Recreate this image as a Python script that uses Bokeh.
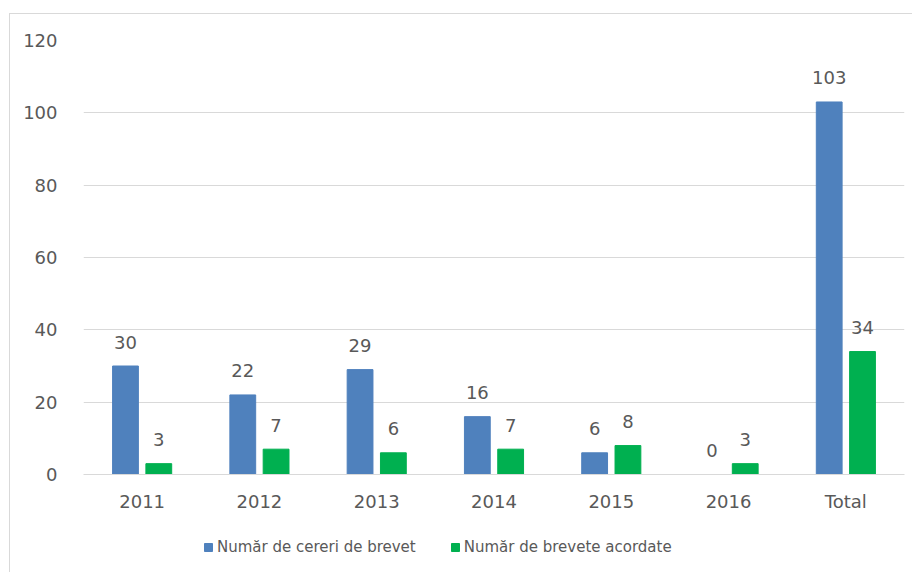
from bokeh.plotting import figure
from bokeh.layouts import column
from bokeh.models import ColumnDataSource, FactorRange, Range1d, Legend, LegendItem, FixedTicker
from bokeh.transform import dodge
from bokeh.core.properties import value
from bokeh.embed import file_html
from bokeh.resources import INLINE

categories = ["2011", "2012", "2013", "2014", "2015", "2016", "Total"]
cereri = [30, 22, 29, 16, 6, 0, 103]
brevete = [3, 7, 6, 7, 8, 3, 34]
series_names = ["Număr de cereri de brevet", "Număr de brevete acordate"]
y_ticks = [0, 20, 40, 60, 80, 100, 120]

BLUE = "#4F81BD"
GREEN = "#00B050"
TXT = "#595959"
FONT = "DejaVu Sans"

src = ColumnDataSource(dict(
    cat=categories, cereri=cereri, brevete=brevete,
    cereri_lbl=[str(v) for v in cereri], brevete_lbl=[str(v) for v in brevete],
))

p = figure(
    x_range=FactorRange(*categories, range_padding=0), y_range=Range1d(0, 120),
    width=902, height=510, output_backend="svg", toolbar_location=None,
    min_border_left=73, min_border_right=8, min_border_top=26, min_border_bottom=50,
)
p.outline_line_color = None
p.background_fill_color = "white"
p.border_fill_color = "white"

r1 = p.vbar(x=dodge("cat", -0.142, range=p.x_range), top="cereri", width=0.22,
            source=src, fill_color=BLUE, line_color=BLUE)
r2 = p.vbar(x=dodge("cat", 0.142, range=p.x_range), top="brevete", width=0.22,
            source=src, fill_color=GREEN, line_color=GREEN)

p.text(x=dodge("cat", -0.142, range=p.x_range), y="cereri", text="cereri_lbl", source=src,
       text_align="center", text_baseline="middle", y_offset=-24,
       text_font=value(FONT), text_font_size="18px", text_color=TXT)
p.text(x=dodge("cat", 0.142, range=p.x_range), y="brevete", text="brevete_lbl", source=src,
       text_align="center", text_baseline="middle", y_offset=-24,
       text_font=value(FONT), text_font_size="18px", text_color=TXT)

p.yaxis.ticker = FixedTicker(ticks=y_ticks)
p.yaxis.axis_line_color = None
p.yaxis.major_tick_line_color = None
p.yaxis.minor_tick_line_color = None
p.yaxis.major_label_standoff = 20
p.yaxis.major_label_text_font = FONT
p.yaxis.major_label_text_font_size = "18px"
p.yaxis.major_label_text_color = TXT

p.xaxis.axis_line_color = "#d9d9d9"
p.xaxis.major_tick_line_color = None
p.xaxis.minor_tick_line_color = None
p.xaxis.major_label_standoff = 10
p.xaxis.major_label_text_font = FONT
p.xaxis.major_label_text_font_size = "18px"
p.xaxis.major_label_text_color = TXT

p.xgrid.grid_line_color = None
p.ygrid.grid_line_color = "#d9d9d9"
p.ygrid.grid_line_width = 1

# legend strip below the chart (its glyphs are placed outside the visible range)
leg = figure(width=902, height=48, output_backend="svg", toolbar_location=None,
             x_range=Range1d(0, 1), y_range=Range1d(0, 1),
             x_axis_location=None, y_axis_location=None,
             min_border=0)
leg.outline_line_color = None
leg.xgrid.grid_line_color = None
leg.ygrid.grid_line_color = None
hidden = ColumnDataSource(dict(x=[-10.0], top=[-10.0]))
l1 = leg.vbar(x="x", top="top", width=0.1, source=hidden, fill_color=BLUE, line_color=BLUE)
l2 = leg.vbar(x="x", top="top", width=0.1, source=hidden, fill_color=GREEN, line_color=GREEN)

legend = Legend(
    items=[LegendItem(label=series_names[0], renderers=[l1]),
           LegendItem(label=series_names[1], renderers=[l2])],
    orientation="horizontal", location=(120, 16),
    padding=0, margin=0, spacing=34, label_standoff=4,
    glyph_width=10, glyph_height=10,
    label_text_font=FONT, label_text_font_size="15px", label_text_color=TXT,
    border_line_color=None, background_fill_alpha=0,
)
leg.add_layout(legend, "center")

layout = column(p, leg, spacing=0)
layout.styles = {"border-top": "1px solid #d9d9d9", "border-left": "1px solid #d9d9d9",
                 "margin-top": "13px", "margin-left": "9px"}

open("out.html", "w").write(file_html(layout, INLINE))
